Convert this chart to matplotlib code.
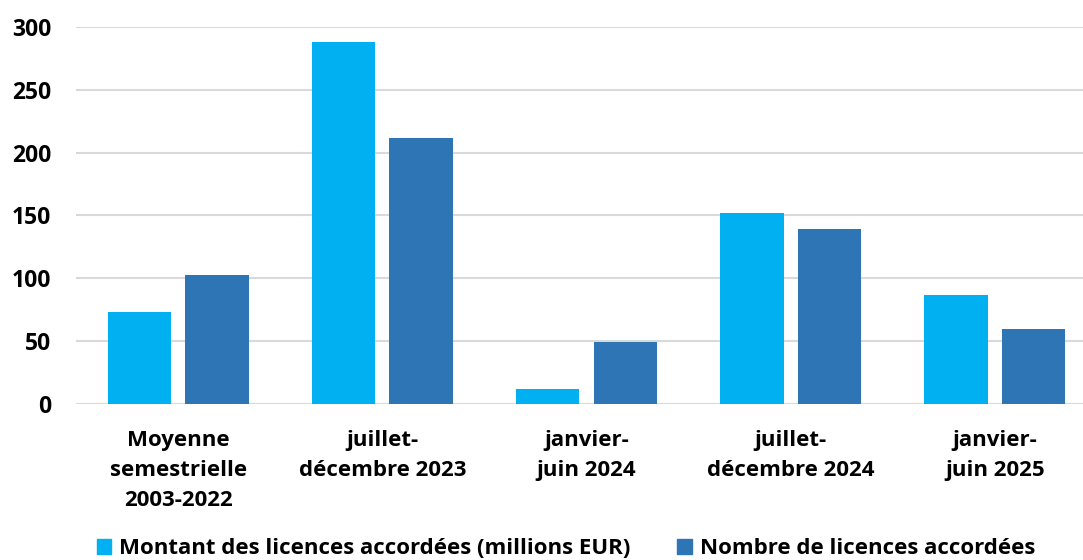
import numpy as np
import matplotlib.pyplot as plt
from matplotlib.patches import Patch

categories = [
    "Moyenne\nsemestrielle\n2003-2022",
    "juillet-\ndécembre 2023",
    "janvier-\njuin 2024",
    "juillet-\ndécembre 2024",
    "janvier-\njuin 2025",
]
montant = [73, 288, 12, 152, 87]
nombre = [103, 212, 49, 139, 60]
series_names = [
    "Montant des licences accordées (millions EUR)",
    "Nombre de licences accordées",
]

plt.rcParams["font.family"] = ["Open Sans", "DejaVu Sans"]
plt.rcParams["font.weight"] = "bold"

W, H = 1083, 560
fig = plt.figure(figsize=(W / 100, H / 100), dpi=100)
ax = fig.add_axes([76 / W, (H - 404) / H, (1097 - 76) / W, (404 - 27) / H])

x = np.arange(len(categories))
width = 0.31
ax.bar(x - 0.19, montant, width, color="#00B0F0", zorder=3)
ax.bar(x + 0.19, nombre, width, color="#2E75B6", zorder=3)

ax.set_xlim(-0.5, len(categories) - 0.5)
ax.set_ylim(0, 300)
ax.set_yticks(range(0, 301, 50))
ax.yaxis.grid(True, color="#D9D9D9", linewidth=1.5, zorder=0)
ax.set_xticks(x)
ax.set_xticklabels(categories, fontsize=16, fontweight="bold", linespacing=1.55)
ax.tick_params(axis="y", labelsize=16.5, length=0, pad=18)
ax.tick_params(axis="x", length=0, pad=19)
for lab in ax.get_yticklabels():
    lab.set_fontweight("bold")
for s in ax.spines.values():
    s.set_visible(False)

handles = [Patch(color="#00B0F0"), Patch(color="#2E75B6")]
fig.legend(handles, series_names, loc="center", bbox_to_anchor=(566 / W, (H - 549) / H),
           ncol=2, frameon=False, prop={"size": 16, "weight": "bold"},
           handlelength=0.65, handleheight=0.65, handletextpad=0.36, columnspacing=2.1)

fig.savefig("out.png", dpi=100)
